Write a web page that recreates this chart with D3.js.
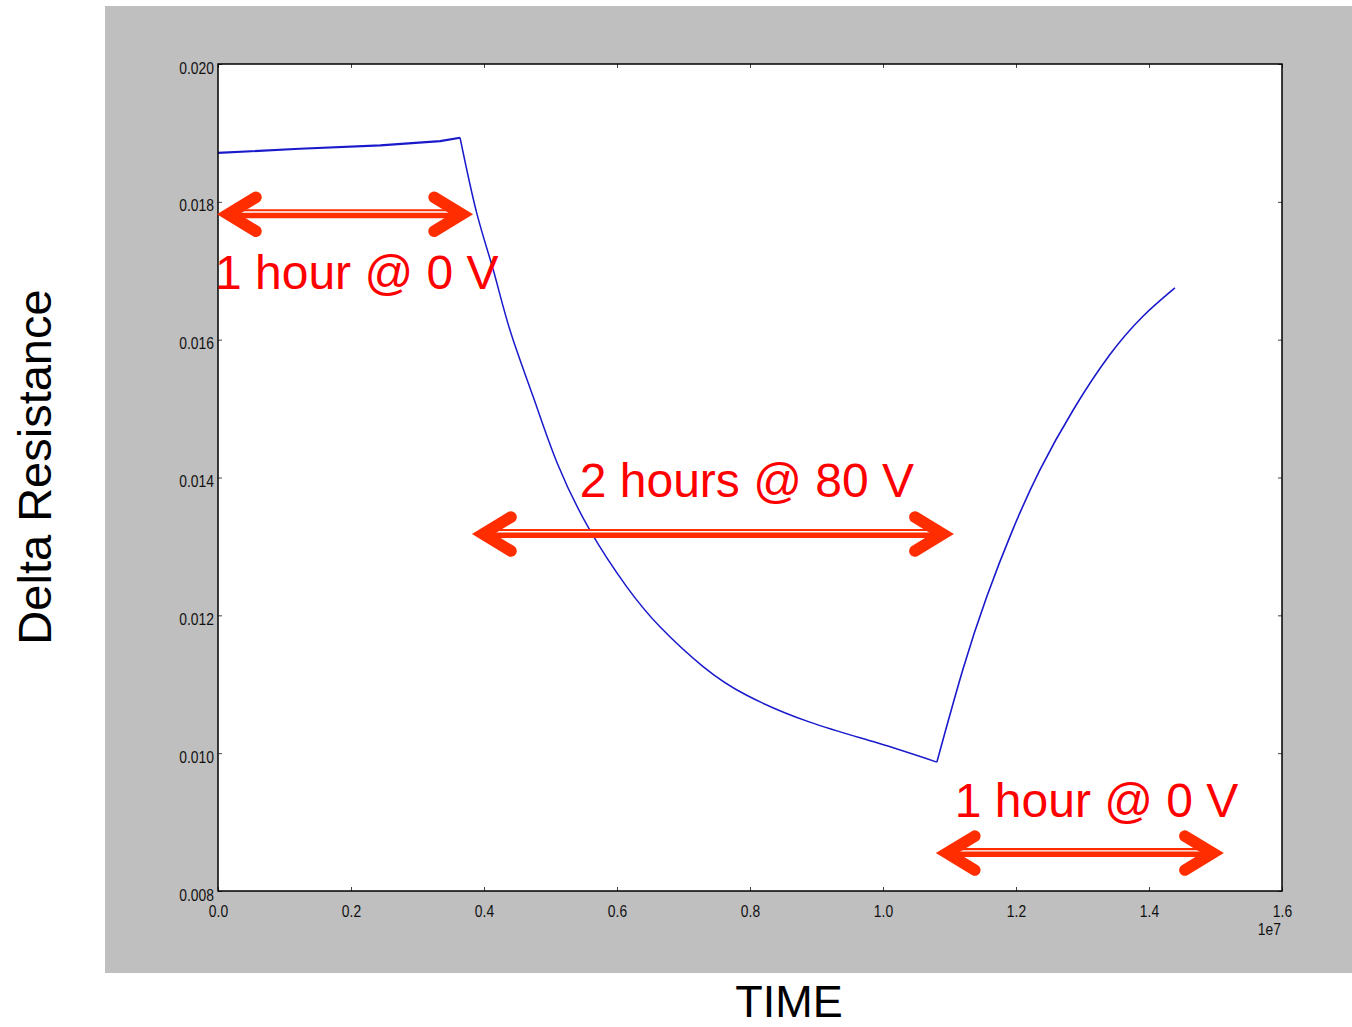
<!DOCTYPE html>
<html>
<head>
<meta charset="utf-8">
<script src="https://cdn.jsdelivr.net/npm/d3@7"></script>
<style>
  body { margin: 0; background: #ffffff; }
  svg { display: block; }
</style>
</head>
<body>
<svg id="vis" width="1352" height="1027"></svg>
<script>
// time in seconds, delta resistance
var flatTime   = [0, 1.23e6, 2.44e6, 3.34e6, 3.64e6];
var flatValue  = [0.01871, 0.01877, 0.01882, 0.01888, 0.01893];

var stressTime  = [3.64e6, 3.89e6, 4.14e6, 4.39e6, 4.74e6, 5.10e6, 5.59e6, 6.15e6, 6.65e6, 7.29e6, 7.95e6, 8.90e6, 9.91e6, 10.81e6];
var stressValue = [0.01893, 0.01784, 0.01701, 0.01614, 0.01517, 0.01421, 0.01324, 0.01241, 0.01183, 0.01126, 0.01084, 0.01045, 0.01015, 0.00987];

var recoverTime  = [10.81e6, 11.20e6, 11.56e6, 11.95e6, 12.36e6, 12.86e6, 13.41e6, 13.91e6, 14.39e6];
var recoverValue = [0.00987, 0.01121, 0.01227, 0.01324, 0.01411, 0.01498, 0.01578, 0.01634, 0.01675];

var xTicks = [0, 0.2e7, 0.4e7, 0.6e7, 0.8e7, 1.0e7, 1.2e7, 1.4e7, 1.6e7];
var yTicks = [0.008, 0.010, 0.012, 0.014, 0.016, 0.018, 0.020];

// annotation arrows: start time, end time, level
var arrowStart = [0, 3.835e6, 10.81e6];
var arrowEnd   = [3.82e6, 11.05e6, 15.11e6];
var arrowLevel = [0.01782, 0.01318, 0.00855];

var noteText  = ["1 hour @ 0 V", "2 hours @ 80 V", "1 hour @ 0 V"];
var noteTime  = [-0.045e6, 5.44e6, 11.08e6];
var noteLevel = [0.016735, 0.013717, 0.009074];

var _vis = d3.select("#vis");

// gray figure background
_vis.append("rect")
    .attr("x", 105).attr("y", 6)
    .attr("width", 1247).attr("height", 967)
    .attr("fill", "#bfbfbf");

var xScale = d3.scaleLinear().domain([0, 1.6e7]).range([218, 1282]);
var yScale = d3.scaleLinear().domain([0.008, 0.020]).range([891, 64]);

// plot area
_vis.append("rect")
    .attr("x", 218).attr("y", 64)
    .attr("width", 1282 - 218).attr("height", 891 - 64)
    .attr("fill", "#ffffff");

var tickFont = "'Liberation Sans', Arial, sans-serif";

// matplotlib labels look narrow: squeeze them a bit
function squeeze(sel) {
    sel.each(function(){
        var w = this.getComputedTextLength();
        if (w > 0) {
            d3.select(this)
                .attr("textLength", w * 0.84)
                .attr("lengthAdjust", "spacingAndGlyphs");
        }
    });
}

function styleAxis(g) {
    g.select(".domain").remove();
    g.selectAll(".tick line").attr("stroke", "#444").attr("stroke-width", 1);
    g.selectAll(".tick text")
        .attr("fill", "#111")
        .style("font-family", tickFont)
        .style("font-size", "16.5px");
}

// bottom axis
_vis.append("g")
    .attr("transform", "translate(0,891)")
    .call(d3.axisBottom(xScale).tickValues(xTicks).tickSizeInner(-4).tickSizeOuter(0).tickPadding(14)
        .tickFormat(function(d){ return (d / 1e7).toFixed(1); }))
    .call(styleAxis)
    .selectAll(".tick text").call(squeeze);

// top axis (ticks only)
_vis.append("g")
    .attr("transform", "translate(0,64)")
    .call(d3.axisTop(xScale).tickValues(xTicks).tickSizeInner(-4).tickSizeOuter(0).tickFormat(""))
    .call(styleAxis);

// left axis
_vis.append("g")
    .attr("transform", "translate(218,0)")
    .call(d3.axisLeft(yScale).tickValues(yTicks).tickSizeInner(-4).tickSizeOuter(0).tickPadding(4)
        .tickFormat(d3.format(".3f")))
    .call(styleAxis)
    .selectAll(".tick text").attr("dy", "0.55em").call(squeeze);

// right axis (ticks only)
_vis.append("g")
    .attr("transform", "translate(1282,0)")
    .call(d3.axisRight(yScale).tickValues(yTicks).tickSizeInner(-4).tickSizeOuter(0).tickFormat(""))
    .call(styleAxis);

// offset label
_vis.append("text")
    .attr("x", 1281).attr("y", 935)
    .attr("text-anchor", "end")
    .style("font-family", tickFont)
    .style("font-size", "16.5px")
    .attr("fill", "#111")
    .text("1e7")
    .call(squeeze);

// the curve, one path per phase
function makeLine(curve) {
    return d3.line()
        .x(function(d){ return xScale(d[0]); })
        .y(function(d){ return yScale(d[1]); })
        .curve(curve);
}

[[flatTime, flatValue, 2.2, d3.curveLinear],
 [stressTime, stressValue, 1.5, d3.curveNatural],
 [recoverTime, recoverValue, 1.6, d3.curveNatural]].forEach(function(s){
    _vis.append("path")
        .datum(d3.zip(s[0], s[1]))
        .attr("d", makeLine(s[3]))
        .attr("fill", "none")
        .attr("stroke", "#1a1acc")
        .attr("stroke-width", s[2])
        .attr("stroke-linejoin", "round");
});

// frame
_vis.append("rect")
    .attr("x", 218).attr("y", 64)
    .attr("width", 1282 - 218).attr("height", 891 - 64)
    .attr("fill", "none")
    .attr("stroke", "#000")
    .attr("stroke-width", 1.5);

// red double-headed arrows
var ARROW_RED = "#ff2d00";
arrowStart.forEach(function(t0, i){
    var x0 = xScale(t0), x1 = xScale(arrowEnd[i]), y = yScale(arrowLevel[i]);
    var g = _vis.append("g").attr("class", "arrow");

    g.append("line")
        .attr("x1", x0 + 10).attr("x2", x1 - 10)
        .attr("y1", y - 0.5).attr("y2", y - 0.5)
        .attr("stroke", ARROW_RED).attr("stroke-width", 9);

    g.append("line")
        .attr("x1", x0 + 22).attr("x2", x1 - 20)
        .attr("y1", y - 2.2).attr("y2", y - 2.2)
        .attr("stroke", "#ffffff").attr("stroke-width", 1.4);

    [[x0, 1], [x1, -1]].forEach(function(h){
        var tx = h[0], s = h[1];
        g.append("path")
            .attr("d", "M" + (tx + s * 38) + "," + (y - 17) +
                       "L" + (tx + s * 10) + "," + y +
                       "L" + (tx + s * 38) + "," + (y + 17))
            .attr("fill", "none")
            .attr("stroke", ARROW_RED)
            .attr("stroke-width", 11.5)
            .attr("stroke-linecap", "round")
            .attr("stroke-linejoin", "miter")
            .attr("stroke-miterlimit", 6);
    });
});

// annotation texts
noteText.forEach(function(txt, i){
    _vis.append("text")
        .attr("x", xScale(noteTime[i]))
        .attr("y", yScale(noteLevel[i]))
        .attr("fill", "#ff0000")
        .style("font-family", "'Liberation Sans', Arial, sans-serif")
        .style("font-size", "48px")
        .text(txt);
});

// axis titles
_vis.append("text")
    .attr("x", 789).attr("y", 1017)
    .attr("text-anchor", "middle")
    .style("font-family", "'Liberation Sans', Arial, sans-serif")
    .style("font-size", "45px")
    .attr("fill", "#000")
    .text("TIME");

_vis.append("text")
    .attr("transform", "translate(51,467) rotate(-90)")
    .attr("text-anchor", "middle")
    .style("font-family", "'Liberation Sans', Arial, sans-serif")
    .style("font-size", "47px")
    .attr("fill", "#000")
    .text("Delta Resistance");
</script>
</body>
</html>
